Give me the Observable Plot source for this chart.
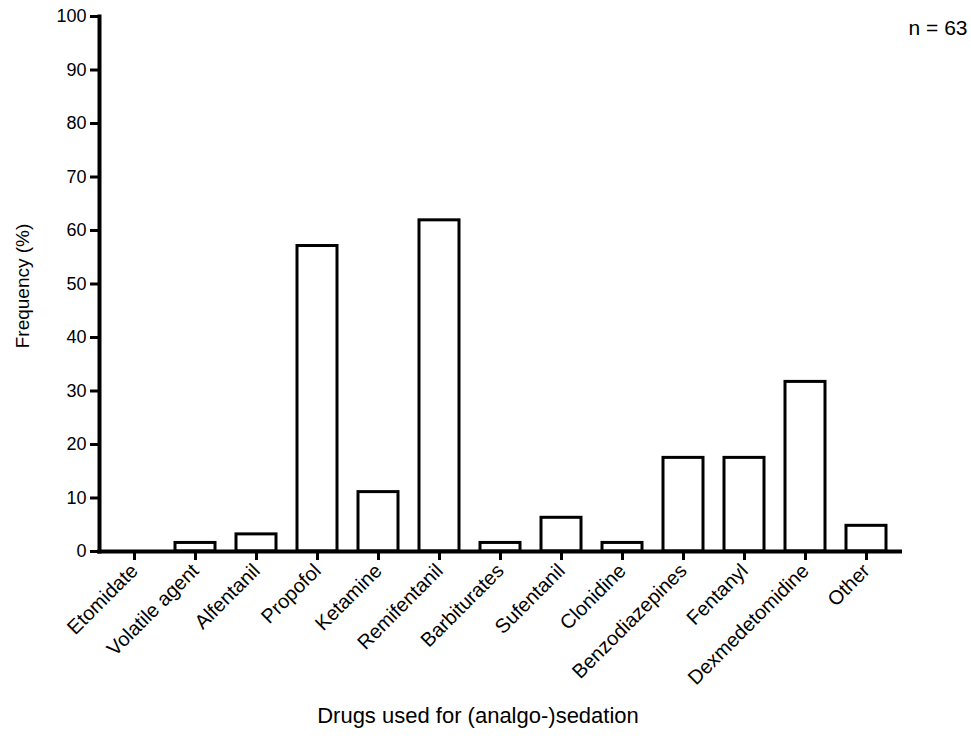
<!DOCTYPE html>
<html>
<head>
<meta charset="utf-8">
<script src="https://cdn.jsdelivr.net/npm/d3@7"></script>
<script src="https://cdn.jsdelivr.net/npm/@observablehq/plot@0.6"></script>
<style>
  html, body { margin: 0; padding: 0; background: #fff; }
  #chart { width: 971px; height: 740px; }
</style>
</head>
<body>
<div id="chart"></div>
<script>
const drugs = ["Etomidate", "Volatile agent", "Alfentanil", "Propofol", "Ketamine", "Remifentanil",
  "Barbiturates", "Sufentanil", "Clonidine", "Benzodiazepines", "Fentanyl", "Dexmedetomidine", "Other"];
const frequency = [0, 1.6, 3.2, 57.1, 11.1, 61.9, 1.6, 6.3, 1.6, 17.5, 17.5, 31.7, 4.8];
const yTicks = [0, 10, 20, 30, 40, 50, 60, 70, 80, 90, 100];
const xTitle = "Drugs used for (analgo-)sedation";
const yTitle = "Frequency (%)";
const note = "n = 63";

const data = drugs.map((d, i) => ({drug: d, value: frequency[i]}));

const chart = Plot.plot({
  width: 971,
  height: 740,
  marginLeft: 99,
  marginRight: 71,
  marginTop: 16,
  marginBottom: 189,
  style: {fontFamily: "'Liberation Sans', Arial, sans-serif", fontSize: "18px", color: "#000", background: "#fff"},
  x: {domain: drugs, paddingInner: 0.35, paddingOuter: 0.175, label: null},
  y: {domain: [0, 100], label: null},
  marks: [
    Plot.barY(data, {x: "drug", y: "value", fill: "white", stroke: "black", strokeWidth: 3}),
    Plot.axisY({ticks: yTicks, tickSize: 9, tickPadding: 4, strokeWidth: 3, fontSize: 18, label: null}),
    Plot.axisX({tickSize: 9, tickPadding: 7, tickRotate: -45, strokeWidth: 3, fontSize: 20, label: null}),
    Plot.ruleY([0], {strokeWidth: 4, stroke: "black", strokeLinecap: "square"}),
    Plot.frame({anchor: "left", strokeWidth: 4, stroke: "black"}),
    Plot.text([xTitle], {frameAnchor: "bottom", textAnchor: "middle", lineAnchor: "middle", dx: -22, dy: 164, fontSize: 22}),
    Plot.text([yTitle], {frameAnchor: "left", textAnchor: "middle", lineAnchor: "middle", rotate: -90, dx: -77, dy: 2, fontSize: 19}),
    Plot.text([note], {frameAnchor: "top-right", textAnchor: "end", lineAnchor: "middle", dx: 67, dy: 12, fontSize: 21})
  ]
});
document.getElementById("chart").appendChild(chart);
</script>
</body>
</html>
